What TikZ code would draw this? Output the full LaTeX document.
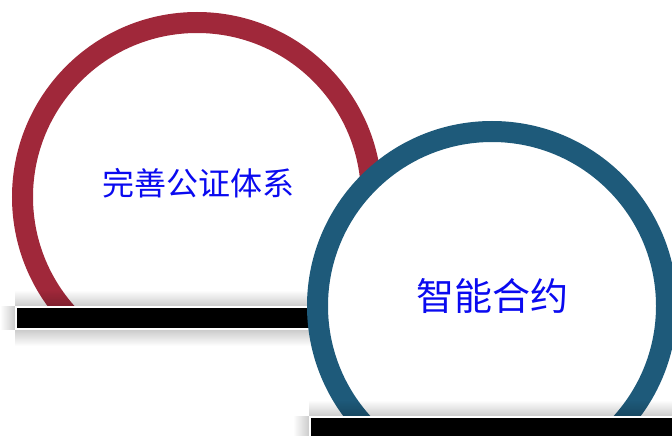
\documentclass[tikz,border=0pt]{standalone}
\usepackage{fontspec}
\newfontfamily\cjk{Noto Sans CJK SC}
\usetikzlibrary{fadings}
\definecolor{ringred}{HTML}{A0283A}
\definecolor{ringblue}{HTML}{1E5A7A}
\definecolor{textblue}{HTML}{0A0AF0}
\tikzset{
  ring/.style={line width=21pt, fill=white},
  shadowband/.style={fill=black, fill opacity=0.2, draw=none},
  barframe/.style={fill=white, draw=none},
  barcore/.style={fill=black, draw=none},
  label/.style={text=textblue, inner sep=0pt, font=\cjk}
}
\begin{document}
\begin{tikzpicture}[x=1pt,y=-1pt]
\useasboundingbox (0,0) rectangle (672,436);
\fill[white] (0,0) rectangle (672,436);
% red ring
\begin{scope}
\clip (0,0) rectangle (672,312);
\draw[ring, draw=ringred] (197,197) circle[radius=174.5pt];
\end{scope}
\node[label, font=\cjk\fontsize{32}{32}\selectfont] (t1) at (198,183) {完善公证体系};
% bar 1 with soft shadow
\fill[shadowband, path fading=north] (15,290) rectangle (340,306);
\fill[shadowband, path fading=south] (15,330) rectangle (340,346);
\fill[shadowband, path fading=west] (0,306) rectangle (15,330);
\fill[barframe] (15,306) rectangle (340,330);
\fill[barcore] (17,308) rectangle (338,328);
% blue ring
\begin{scope}
\clip (0,0) rectangle (672,422);
\draw[ring, draw=ringblue] (492,306) circle[radius=174.5pt];
\end{scope}
\node[label, font=\cjk\fontsize{38}{38}\selectfont] (t2) at (492.5,296.5) {智能合约};
% bar 2 with soft shadow
\fill[shadowband, path fading=north] (309,400) rectangle (690,416);
\fill[shadowband, path fading=west] (293,416) rectangle (309,450);
\fill[barframe] (309,416) rectangle (690,450);
\fill[barcore] (311,418) rectangle (690,450);
\end{tikzpicture}
\end{document}
